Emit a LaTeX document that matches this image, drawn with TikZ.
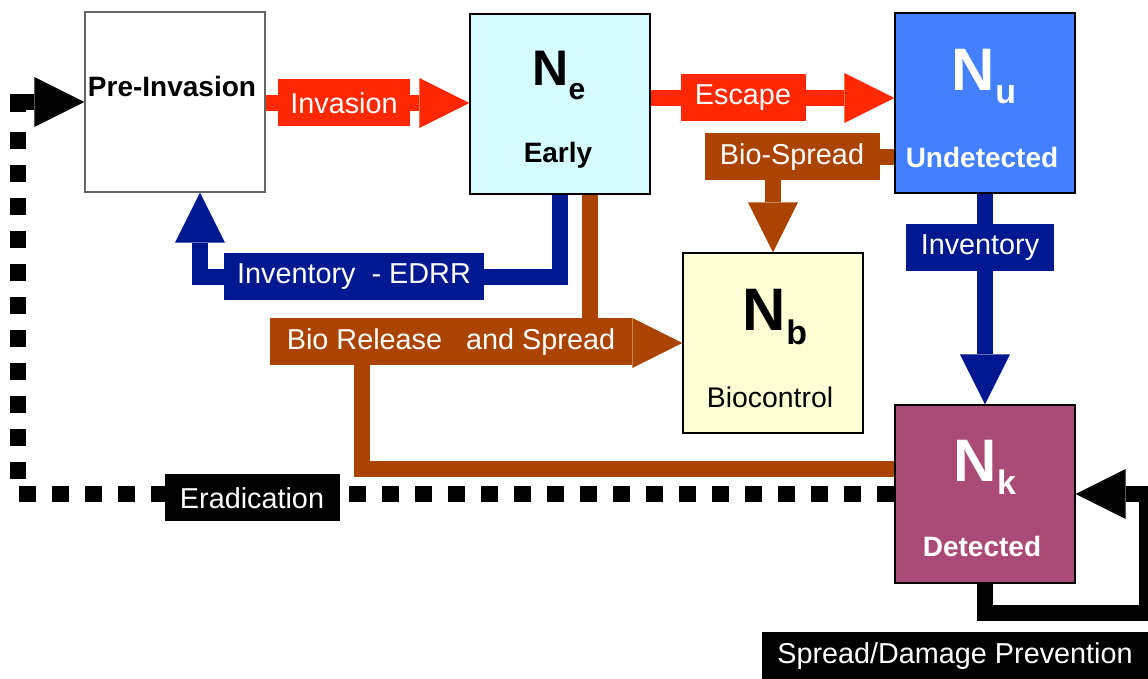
\documentclass[tikz,border=0pt]{standalone}
\usepackage{fontspec}
\setmainfont{Liberation Sans}
\usetikzlibrary{arrows.meta,backgrounds}

\definecolor{invred}{RGB}{255,40,0}
\definecolor{biobrown}{RGB}{170,68,0}
\definecolor{invnavy}{RGB}{0,24,144}
\definecolor{earlycyan}{RGB}{213,252,255}
\definecolor{undetblue}{RGB}{66,128,255}
\definecolor{biocream}{RGB}{255,255,213}
\definecolor{detplum}{RGB}{170,74,118}

% big N with a lowered index letter
\newcommand{\popN}[4]{{\fontsize{#1}{#1}\selectfont N}\raisebox{#3}{\fontsize{#2}{#2}\selectfont #4}}

\begin{document}
\begin{tikzpicture}[
		x=0.5pt, y=-0.5pt,
		stage/.style={draw=black, line width=0.6pt, minimum width=90pt, minimum height=90pt, inner sep=0pt},
		flow/.style={line width=8pt, draw=#1, -{Triangle[length=25pt,width=25pt,line width=0pt]}},
		flowtag/.style={fill=#1, text=white, inner sep=0pt, minimum height=23.5pt, font=\fontsize{14.4}{16}\selectfont},
		boxname/.style={anchor=base, font=\fontsize{14}{16}\selectfont\bfseries},
		boxnum/.style={anchor=base, font=\bfseries}
		]
		\useasboundingbox (0,0) rectangle (1148,679);

		% the five stages
		\node[stage, draw=black!60, fill=white] (pre) at (175,102) {};
		\node[stage, fill=earlycyan] (ne) at (560,104) {};
		\node[stage, fill=undetblue] (nu) at (985,103) {};
		\node[stage, fill=biocream] (nb) at (773,343) {};
		\node[stage, fill=detplum, minimum height=89pt] (nk) at (985,494) {};

		\node[boxname] (pret) at (172,97) {Pre-Invasion};
		\node[boxnum] (net) at (559,86) {\popN{25}{15}{-7pt}{e}};
		\node[boxname] (nes) at (558,163) {Early};
		\node[boxnum, text=white] (nut) at (984,91) {\popN{30}{17}{-6.5pt}{u}};
		\node[boxname, text=white] (nus) at (982,168) {Undetected};
		\node[boxnum] (nbt) at (775,331) {\popN{30}{17}{-7pt}{b}};
		\node[anchor=base, font=\fontsize{14.2}{16}\selectfont] (nbs) at (770,408) {Biocontrol};
		\node[boxnum, text=white] (nkt) at (985,482) {\popN{30}{17}{-6.5pt}{k}};
		\node[boxname, text=white] (nks) at (982,557) {Detected};

		% labels on the flows
		\node[flowtag=invred, minimum width=66pt] (linv) at (344,103) {Invasion};
		\node[flowtag=invred, minimum width=62.5pt] (lesc) at (743,98) {Escape};
		\node[flowtag=biobrown, minimum width=87.5pt] (lbsp) at (792,157) {Bio-Spread};
		\node[flowtag=invnavy, minimum width=130pt] (ledrr) at (354,277) {Inventory\ \ - EDRR};
		\node[flowtag=biobrown, minimum width=181pt] (lrel) at (451,342) {Bio Release\hspace{12pt}and Spread};
		\node[flowtag=invnavy, minimum width=74pt] (linvu) at (980,248) {Inventory};
		\node[flowtag=black, minimum width=87.5pt] (lerad) at (252,498) {Eradication};
		\node[flowtag=black, minimum width=193pt] (lprev) at (955,656) {Spread/Damage Prevention};

		\coordinate (relfoot) at (362,343);
		\coordinate (eradturn) at (18,494);
		\coordinate (eradtop) at (18,112);
		\coordinate (prevturn) at (1147,613);

		\begin{pgfonlayer}{background}
			\draw[flow=invred] (pre.east |- linv) -- (ne.west |- linv);
			\draw[flow=invred] (ne.east |- lesc) -- (nu.west |- lesc);
			\draw[flow=biobrown] (nu.west |- lbsp) -| (nb.north);
			\draw[flow=invnavy] (ne.south) |- (ledrr.center) -| ([xshift=12.5pt]pre.south);
			\draw[flow=biobrown] ([xshift=15pt]ne.south) |- (nb.west);
			\draw[flow=biobrown, -] (relfoot) |- ([yshift=12.5pt]nk.west);
			\draw[flow=invnavy] (nu.south) -- (nk.north);
			\draw[flow=black, -, dash pattern=on 8.5pt off 8pt] (nk.west) -- (eradturn) -- ([yshift=-5pt]eradtop);
			\draw[flow=black] (eradtop) |- (pre.west);
			\draw[flow=black] (nk.south) |- (prevturn) |- (nk.east);
		\end{pgfonlayer}
	\end{tikzpicture}
\end{document}
